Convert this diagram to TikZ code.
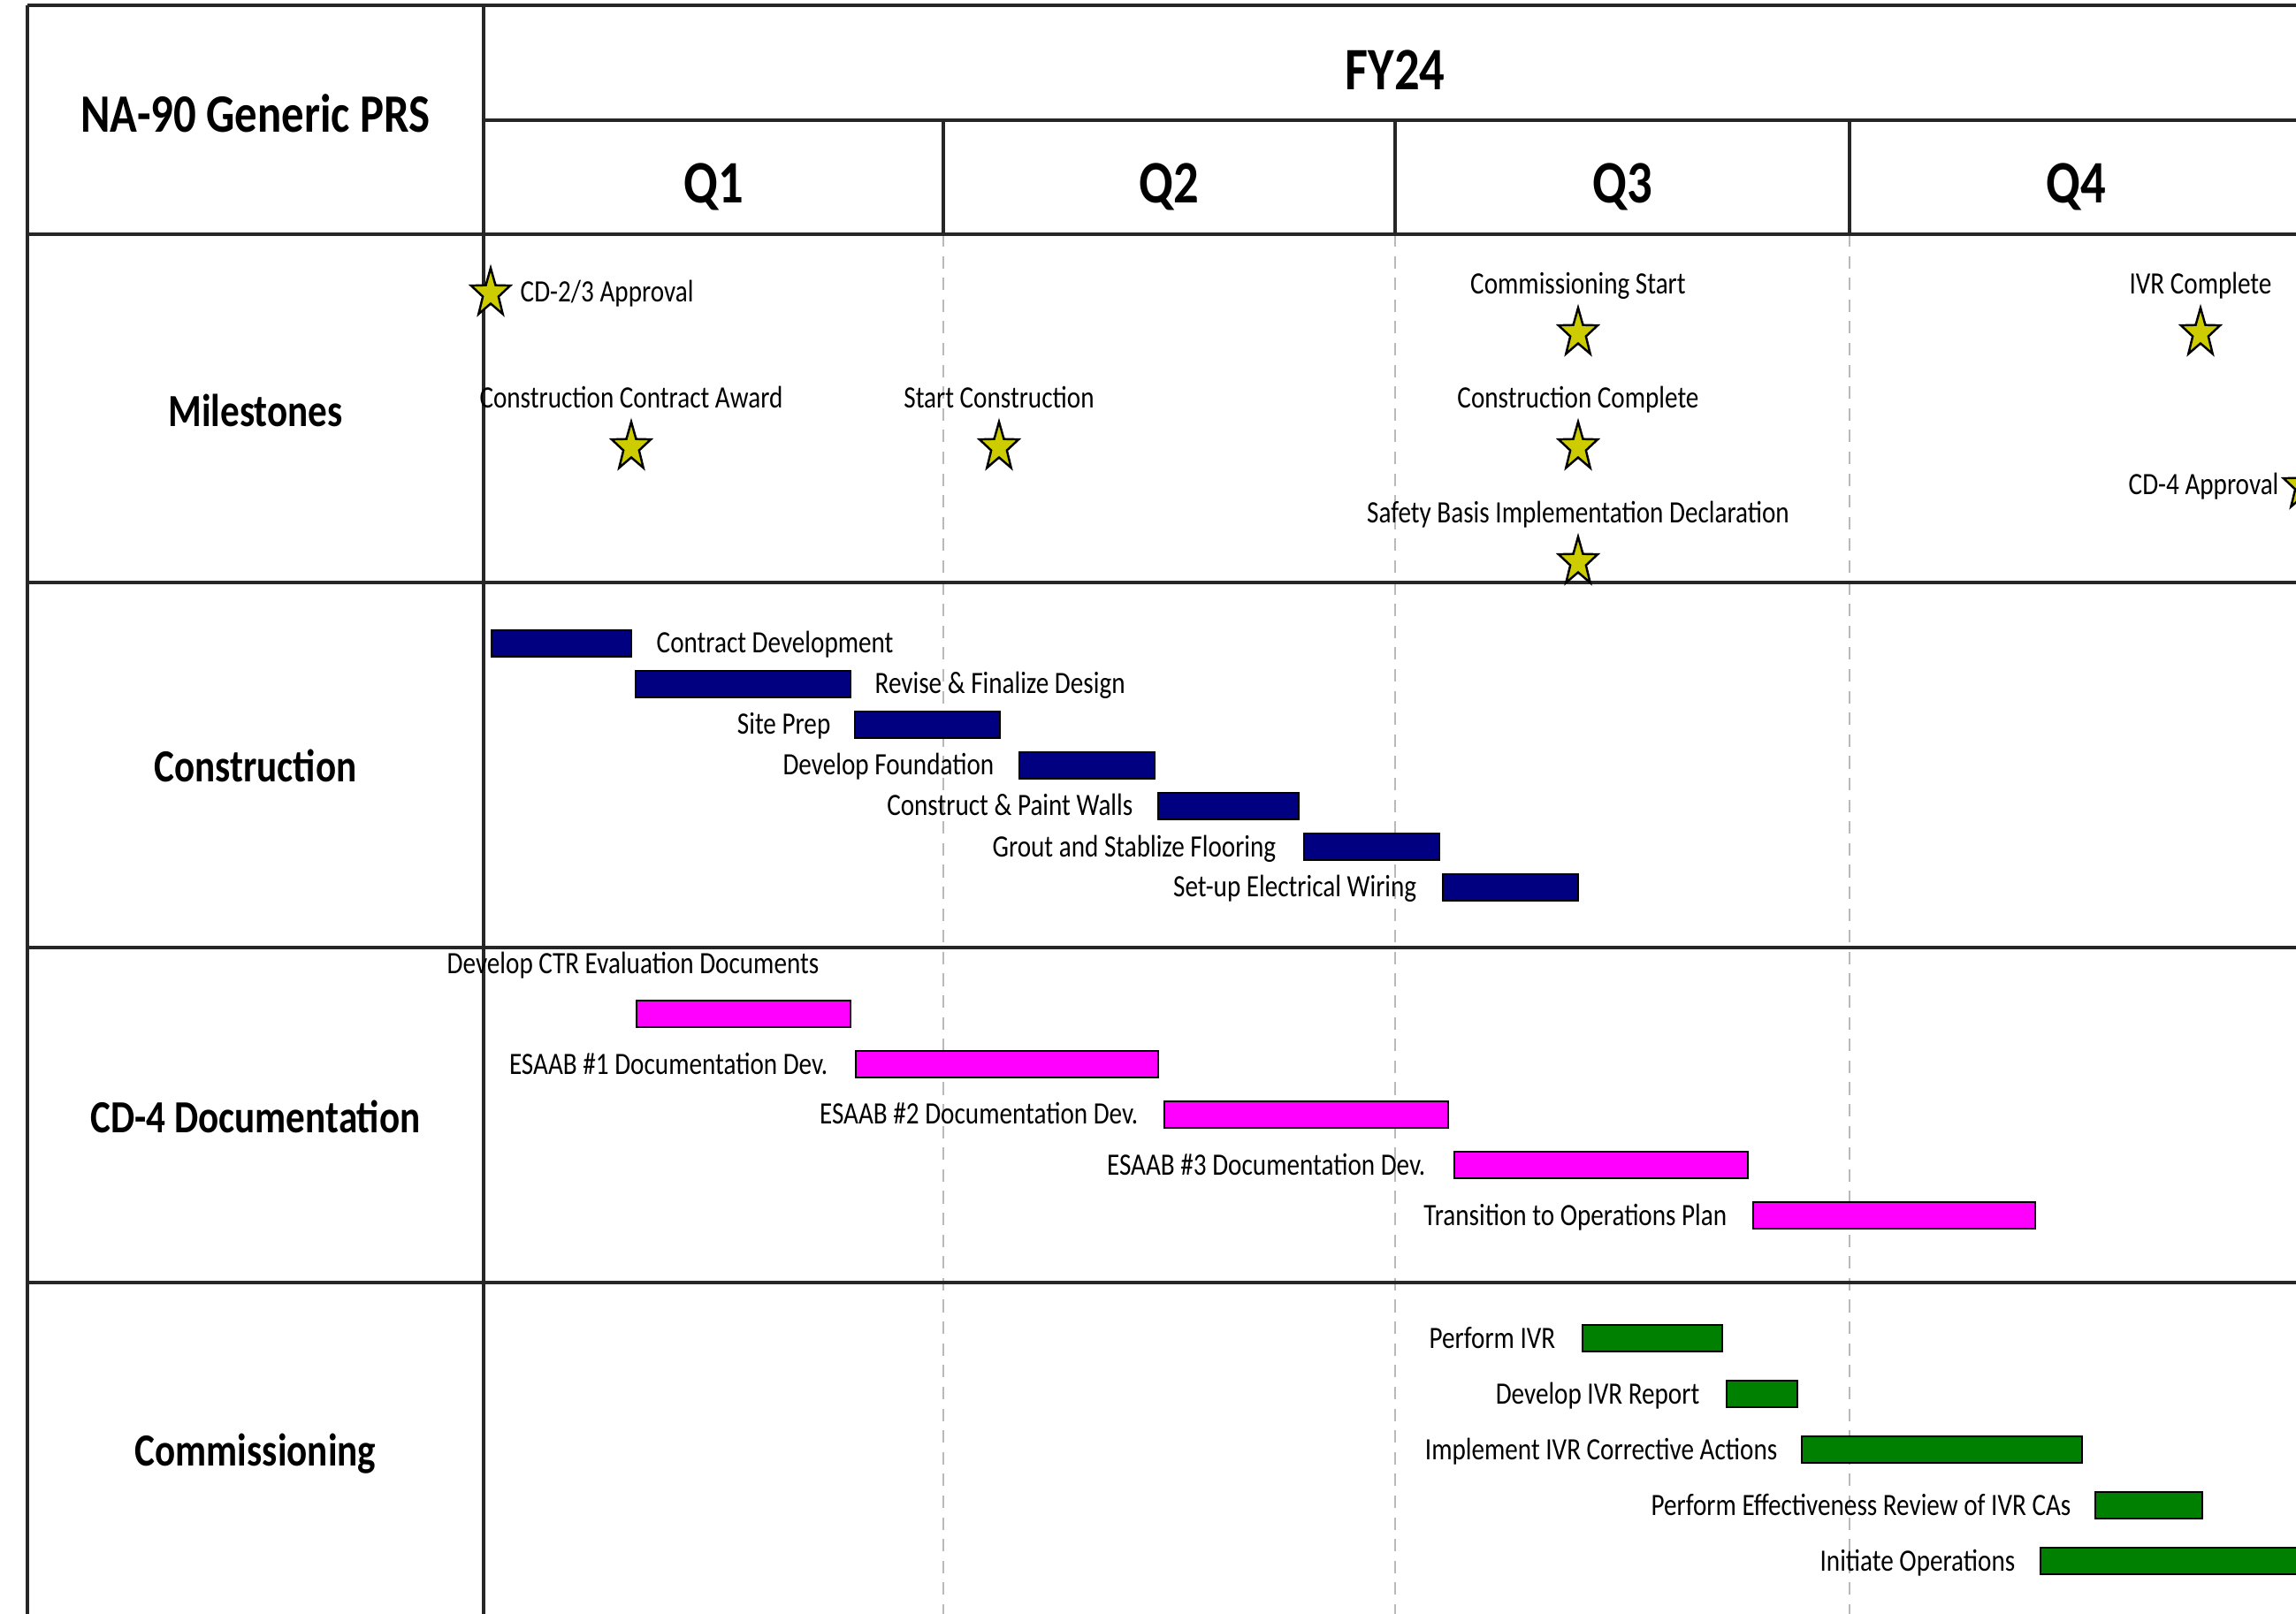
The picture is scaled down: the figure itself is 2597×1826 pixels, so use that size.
\documentclass[tikz,border=0pt]{standalone}
\usepackage{fontspec}
\setmainfont[FakeStretch=0.83]{Carlito}
\usetikzlibrary{shapes.geometric}

\definecolor{cnavy}{RGB}{0,0,128}
\definecolor{dmag}{RGB}{255,0,255}
\definecolor{kgreen}{RGB}{0,128,0}
\definecolor{msyellow}{RGB}{204,204,0}

\begin{document}
\begin{tikzpicture}[x=0.1mm, y=-0.1mm,
    grid/.style={line width=0.9pt, black!85},
    qdash/.style={gray!55, line width=0.4pt, dash pattern=on 4pt off 3pt},
    hdr/.style={font=\bfseries\fontsize{19.4}{22}\selectfont, inner sep=0pt, anchor=base},
    rowlbl/.style={font=\bfseries\fontsize{14.8}{17}\selectfont, inner sep=0pt, anchor=base},
    tlbl/.style={font=\fontsize{10}{12}\selectfont, inner sep=0pt},
    mstar/.style={star, star points=5, star point ratio=2.5, draw=black, fill=msyellow,
        line width=0.7pt, minimum size=5.75mm, inner sep=0pt, xscale=0.81, transform shape},
    cbar/.style={draw=black, line width=0.7pt, fill=cnavy},
    dbar/.style={draw=black, line width=0.7pt, fill=dmag},
    kbar/.style={draw=black, line width=0.7pt, fill=kgreen}]
    \useasboundingbox (0,0) rectangle (2597,1826);
    \clip (0,0) rectangle (2597,1826);

    % table frame
    \draw[qdash] (1067,265) -- (1067,1850);
    \draw[qdash] (1578,265) -- (1578,1850);
    \draw[qdash] (2092,265) -- (2092,1850);
    \draw[grid] (31,6) -- (2650,6);
    \draw[grid] (31,6) -- (31,1850);
    \draw[grid] (547,6) -- (547,1850);
    \draw[grid] (547,136) -- (2650,136);
    \draw[grid] (1067,136) -- (1067,265);
    \draw[grid] (1578,136) -- (1578,265);
    \draw[grid] (2092,136) -- (2092,265);
    \draw[grid] (31,265) -- (2650,265);
    \draw[grid] (31,659) -- (2650,659);
    \draw[grid] (31,1072) -- (2650,1072);
    \draw[grid] (31,1451) -- (2650,1451);

    % headers
    \node[font=\bfseries\fontsize{17.4}{20}\selectfont, inner sep=0pt, anchor=base] (prs) at (289,150) {NA-90 Generic PRS};
    \node[hdr] (fy) at (1578,102) {FY24};
    \node[hdr] (q1) at (807,230) {Q1};
    \node[hdr] (q2) at (1322,230) {Q2};
    \node[hdr] (q3) at (1835,230) {Q3};
    \node[hdr] (q4) at (2348,230) {Q4};

    \node[rowlbl] (ms) at (289,483) {Milestones};
    \node[rowlbl] (con) at (289,885) {Construction};
    \node[rowlbl] (doc) at (289,1281) {CD-4 Documentation};
    \node[rowlbl] (com) at (289,1658) {Commissioning};

    % milestones
    \node[mstar] (s1) at (555,332) {};
    \node[tlbl, anchor=base west] (m1) at (588,342) {CD-2/3 Approval};
    \node[tlbl, anchor=base] (m2) at (714,462) {Construction Contract Award};
    \node[mstar] (s2) at (714,506) {};
    \node[tlbl, anchor=base] (m3) at (1130,462) {Start Construction};
    \node[mstar] (s3) at (1130,506) {};
    \node[tlbl, anchor=base] (m4) at (1785,333) {Commissioning Start};
    \node[mstar] (s4) at (1785,377) {};
    \node[tlbl, anchor=base] (m5) at (1785,462) {Construction Complete};
    \node[mstar] (s5) at (1785,506) {};
    \node[tlbl, anchor=base] (m6) at (1785,592) {Safety Basis Implementation Declaration};
    \node[mstar] (s6) at (1785,636) {};
    \node[tlbl, anchor=base] (m7) at (2489,333) {IVR Complete};
    \node[mstar] (s7) at (2489,377) {};
    \node[tlbl, anchor=base west] (m8) at (2407,560) {CD-4 Approval};
    \node[mstar] (s8) at (2605,550) {};

    % construction
    \draw[cbar] (556,713) rectangle (714,743);
    \node[tlbl, anchor=base west] (c1) at (742,739) {Contract Development};
    \draw[cbar] (719,759) rectangle (962,789);
    \node[tlbl, anchor=base west] (c2) at (989,785) {Revise \& Finalize Design};
    \draw[cbar] (967,805) rectangle (1131,835);
    \node[tlbl, anchor=base east] (c3) at (940,831) {Site Prep};
    \draw[cbar] (1153,851) rectangle (1306,881);
    \node[tlbl, anchor=base east] (c4) at (1125,877) {Develop Foundation};
    \draw[cbar] (1310,897) rectangle (1469,927);
    \node[tlbl, anchor=base east] (c5) at (1282,923) {Construct \& Paint Walls};
    \draw[cbar] (1475,943) rectangle (1628,973);
    \node[tlbl, anchor=base east] (c6) at (1444,969) {Grout and Stablize Flooring};
    \draw[cbar] (1632,989) rectangle (1785,1019);
    \node[tlbl, anchor=base east] (c7) at (1603,1015) {Set-up Electrical Wiring};

    % CD-4 documentation
    \node[tlbl, anchor=base west] (d0) at (505,1102) {Develop CTR Evaluation Documents};
    \draw[dbar] (720,1132) rectangle (962,1162);
    \draw[dbar] (968,1189) rectangle (1310,1219);
    \node[tlbl, anchor=base east] (d1) at (937,1215) {ESAAB \#1 Documentation Dev.};
    \draw[dbar] (1317,1246) rectangle (1638,1276);
    \node[tlbl, anchor=base east] (d2) at (1288,1272) {ESAAB \#2 Documentation Dev.};
    \draw[dbar] (1645,1303) rectangle (1977,1333);
    \node[tlbl, anchor=base east] (d3) at (1613,1329) {ESAAB \#3 Documentation Dev.};
    \draw[dbar] (1983,1360) rectangle (2302,1390);
    \node[tlbl, anchor=base east] (d4) at (1954,1386) {Transition to Operations Plan};

    % commissioning
    \draw[kbar] (1790,1499) rectangle (1948,1529);
    \node[tlbl, anchor=base east] (k1) at (1760,1525) {Perform IVR};
    \draw[kbar] (1953,1562) rectangle (2033,1592);
    \node[tlbl, anchor=base east] (k2) at (1923,1588) {Develop IVR Report};
    \draw[kbar] (2038,1625) rectangle (2355,1655);
    \node[tlbl, anchor=base east] (k3) at (2011,1651) {Implement IVR Corrective Actions};
    \draw[kbar] (2370,1688) rectangle (2491,1718);
    \node[tlbl, anchor=base east] (k4) at (2343,1714) {Perform Effectiveness Review of IVR CAs};
    \draw[kbar] (2308,1751) rectangle (2650,1781);
    \node[tlbl, anchor=base east] (k5) at (2280,1777) {Initiate Operations};
\end{tikzpicture}
\end{document}
